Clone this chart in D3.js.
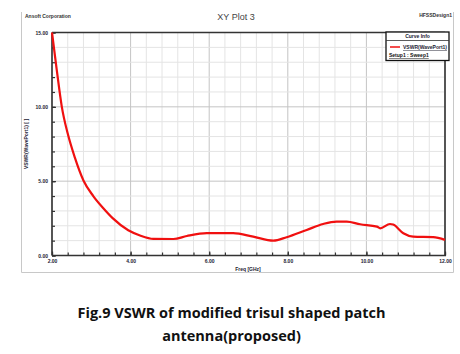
<!DOCTYPE html>
<html><head><meta charset="utf-8">
<script src="https://cdn.jsdelivr.net/npm/d3@7/dist/d3.min.js"></script>
<style>body{margin:0;background:#fff}svg{display:block}</style>
</head><body>
<svg id="c" width="460" height="354"></svg>
<script>
const freq = [2.0, 2.12, 2.25, 2.4, 2.58, 2.8, 3.05, 3.3, 3.55, 3.94, 4.24, 4.58, 5.09, 5.43, 5.94, 6.61, 7.12, 7.63, 7.97, 8.48, 8.9, 9.24, 9.5, 9.84, 10.27, 10.35, 10.6, 10.68, 10.94, 11.19, 11.7, 12.0];
const vswr = [15.0, 12.5, 10.0, 8.2, 6.6, 5.05, 4.0, 3.2, 2.5, 1.7, 1.35, 1.12, 1.11, 1.31, 1.5, 1.5, 1.27, 1.0, 1.23, 1.72, 2.12, 2.28, 2.28, 2.1, 1.94, 1.83, 2.12, 2.08, 1.5, 1.27, 1.23, 1.05];
const xTicks = [2, 4, 6, 8, 10, 12];
const yTicks = [0, 5, 10, 15];
const title = "XY Plot 3";
const caption = ["Fig.9 VSWR of modified trisul shaped patch", "antenna(proposed)"];

const svg = d3.select("#c");
const L = 52, R = 445, T = 32.5, B = 255.5;
const x = d3.scaleLinear().domain([2, 12]).range([L, R]);
const y = d3.scaleLinear().domain([0, 15]).range([B, T]);

// outer frame
svg.append("path").attr("d", `M21.5,12 V272.5 H453.5 V12`).attr("fill","none").attr("stroke","#c8c8c8").attr("stroke-width",1);

// grid
const minorX = d3.range(2, 12.001, 0.4);
const minorY = d3.range(0, 15.001, 1);
const g = svg.append("g");
g.selectAll(".gx").data(minorX).join("line")
  .attr("x1", d=>x(d)).attr("x2", d=>x(d)).attr("y1", T).attr("y2", B)
  .attr("stroke", d => Math.abs(d/2 - Math.round(d/2))<1e-6 ? "#c4c4c4" : "#e4e4e4").attr("stroke-width",1);
g.selectAll(".gy").data(minorY).join("line")
  .attr("y1", d=>y(d)).attr("y2", d=>y(d)).attr("x1", L).attr("x2", R)
  .attr("stroke", d => d%5===0 ? "#c4c4c4" : "#e4e4e4").attr("stroke-width",1);

// axes
const xAxis = d3.axisBottom(x).tickValues(xTicks).tickFormat(d3.format(".2f")).tickSize(-4).tickPadding(4);
const xMinor = d3.axisBottom(x).tickValues(minorX).tickFormat("").tickSize(-3);
const yAxis = d3.axisLeft(y).tickValues(yTicks).tickFormat(d3.format(".2f")).tickSize(-4).tickPadding(4);
const yMinor = d3.axisLeft(y).tickValues(minorY).tickFormat("").tickSize(-3);
function style(sel){
  sel.select(".domain").remove();
  sel.selectAll("line").attr("stroke","#333").attr("stroke-width",1.2);
  sel.selectAll("text").attr("font-family","Liberation Sans, Arial, sans-serif").attr("font-size","5px").attr("fill","#223").attr("font-weight","bold");
}
svg.append("g").attr("transform",`translate(0,${B})`).call(xMinor).call(style);
svg.append("g").attr("transform",`translate(0,${B})`).call(xAxis).call(style);
svg.append("g").attr("transform",`translate(${L},0)`).call(yMinor).call(style);
svg.append("g").attr("transform",`translate(${L},0)`).call(yAxis).call(style);

// frame lines of plot
svg.append("line").attr("x1",L).attr("x2",R+1).attr("y1",B).attr("y2",B).attr("stroke","#333").attr("stroke-width",1.6);
svg.append("line").attr("x1",L).attr("x2",L).attr("y1",T).attr("y2",B).attr("stroke","#333").attr("stroke-width",1.6);
svg.append("line").attr("x1",L).attr("x2",R).attr("y1",T).attr("y2",T).attr("stroke","#333").attr("stroke-width",1.6);
svg.append("line").attr("x1",R).attr("x2",R).attr("y1",T).attr("y2",B).attr("stroke","#333").attr("stroke-width",1.6);

// curve
const data = freq.map((f,i)=>[f, vswr[i]]);
svg.append("path").datum(data)
  .attr("d", d3.line().x(d=>x(d[0])).y(d=>y(d[1])).curve(d3.curveMonotoneX))
  .attr("fill","none").attr("stroke","#f01010").attr("stroke-width",2.2);

// texts
const ff = "Liberation Sans, Arial, sans-serif";
svg.append("text").attr("x",236).attr("y",20).attr("text-anchor","middle").attr("font-family",ff).attr("font-size","9px").attr("fill","#444").text(title);
svg.append("text").attr("x",25).attr("y",18).attr("font-family",ff).attr("font-size","5px").attr("font-weight","bold").attr("fill","#333").text("Ansoft Corporation");
svg.append("text").attr("x",452).attr("y",17).attr("text-anchor","end").attr("font-family",ff).attr("font-size","5px").attr("font-weight","bold").attr("fill","#333").text("HFSSDesign1");
svg.append("text").attr("x",248).attr("y",271).attr("text-anchor","middle").attr("font-family",ff).attr("font-size","5px").attr("font-weight","bold").attr("fill","#223").text("Freq [GHz]");
svg.append("text").attr("transform","translate(28,144) rotate(-90)").attr("text-anchor","middle").attr("font-family",ff).attr("font-size","5px").attr("font-weight","bold").attr("fill","#223").text("VSWR(WavePort1) [ ]");

// legend
const lg = svg.append("g");
lg.append("rect").attr("x",386).attr("y",32).attr("width",63).attr("height",28.5).attr("fill","#fff").attr("stroke","#111").attr("stroke-width",1.3);
lg.append("line").attr("x1",386).attr("x2",449).attr("y1",40.5).attr("y2",40.5).attr("stroke","#333").attr("stroke-width",0.8);
lg.append("text").attr("x",417.5).attr("y",38).attr("text-anchor","middle").attr("font-family",ff).attr("font-size","5px").attr("font-weight","bold").attr("fill","#223").text("Curve Info");
lg.append("line").attr("x1",390).attr("x2",400).attr("y1",47).attr("y2",47).attr("stroke","#f01010").attr("stroke-width",1.5);
lg.append("text").attr("x",403).attr("y",49).attr("font-family",ff).attr("font-size","5px").attr("font-weight","bold").attr("text-decoration","underline").attr("fill","#223").text("VSWR(WavePort1)");
lg.append("text").attr("x",389).attr("y",57).attr("font-family",ff).attr("font-size","5px").attr("font-weight","bold").attr("text-decoration","underline").attr("fill","#111").text("Setup1 : Sweep1");

// caption
caption.forEach((t,i)=>{
  svg.append("text").attr("x",231.5).attr("y",318 + i*23).attr("text-anchor","middle")
    .attr("font-family","Open Sans, Liberation Sans, sans-serif").attr("font-weight","bold").attr("font-size","14.5px").attr("fill","#111").text(t);
});
</script>
</body></html>
